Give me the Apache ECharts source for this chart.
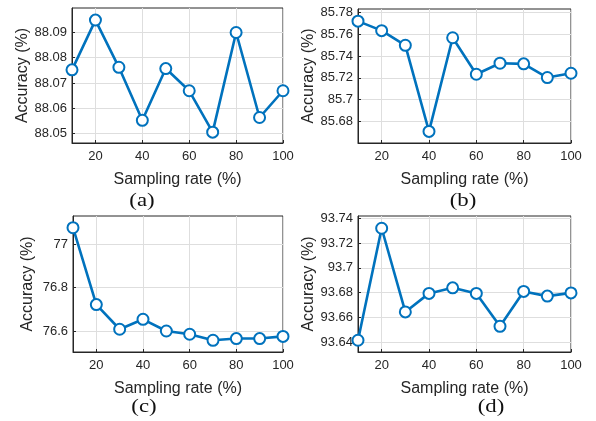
<!DOCTYPE html>
<html>
<head>
<meta charset="utf-8">
<script src="https://cdn.jsdelivr.net/npm/echarts@6/dist/echarts.min.js"></script>
<style>
html,body{margin:0;padding:0;background:#fff;}
#chart{width:596px;height:421px;}
</style>
</head>
<body>
<div id="chart"></div>
<script>
// ---- data ----
var samplingRates = [10, 20, 30, 40, 50, 60, 70, 80, 90, 100];
var accA = [88.0752, 88.0949, 88.0762, 88.0552, 88.0757, 88.0669, 88.0505, 88.0900, 88.0563, 88.0669];
var accB = [85.7719, 85.7632, 85.7498, 85.6710, 85.7567, 85.7233, 85.7334, 85.7328, 85.7203, 85.7242];
var accC = [77.077, 76.722, 76.608, 76.654, 76.600, 76.585, 76.557, 76.565, 76.565, 76.575];
var accD = [93.6414, 93.7320, 93.6643, 93.6793, 93.6838, 93.6793, 93.6527, 93.6809, 93.6771, 93.6797];

var xTicks = [20, 40, 60, 80, 100];
var yTicksA = [88.05, 88.06, 88.07, 88.08, 88.09];
var yTicksB = [85.68, 85.70, 85.72, 85.74, 85.76, 85.78];
var yTicksC = [76.6, 76.8, 77.0];
var yTicksD = [93.64, 93.66, 93.68, 93.70, 93.72, 93.74];

var panelLabels = ['(a)', '(b)', '(c)', '(d)'];
var xName = 'Sampling rate (%)';
var yName = 'Accuracy (%)';

// ---- layout / style ----
var panels = [
  {data: accA, ticks: yTicksA, dec: 2, min: 88.0462, max: 88.0997, grid: {left: 72, top: 8, width: 211, height: 135}, nameGap: 41, label: {x: 142, y: 201}},
  {data: accB, ticks: yTicksB, dec: 2, min: 85.6604, max: 85.7830, grid: {left: 358, top: 9, width: 213, height: 134}, nameGap: 41, label: {x: 463, y: 201}},
  {data: accC, ticks: yTicksC, dec: 1, min: 76.503, max: 77.131, grid: {left: 73, top: 216, width: 210, height: 136}, nameGap: 37, label: {x: 144, y: 407}},
  {data: accD, ticks: yTicksD, dec: 2, min: 93.6319, max: 93.7419, grid: {left: 358, top: 216, width: 213, height: 136}, nameGap: 41, label: {x: 491, y: 407}}
];

var BLUE = '#0072BD';
var AXIS = '#262626';
var GRIDC = '#dedede';
var FONT = '"Liberation Sans", Arial, sans-serif';

function fmt(v, dec) {
  return String(parseFloat(v.toFixed(dec)));
}

var option = {
  animation: false,
  backgroundColor: '#fff',
  grid: [], xAxis: [], yAxis: [], series: [], graphic: []
};

panels.forEach(function (p, i) {
  option.grid.push(Object.assign({show: true, borderColor: AXIS, borderWidth: 1, backgroundColor: 'transparent'}, p.grid));
  option.xAxis.push({
    type: 'value', gridIndex: i, min: 10, max: 100,
    name: xName, nameLocation: 'middle', nameGap: 29,
    nameTextStyle: {fontFamily: FONT, fontSize: 16, color: AXIS},
    axisLine: {show: true, lineStyle: {color: AXIS, width: 1}},
    axisTick: {show: true, inside: true, length: 3, lineStyle: {color: AXIS}, customValues: xTicks},
    axisLabel: {fontFamily: FONT, fontSize: 13, color: AXIS, margin: 7, customValues: xTicks,
      formatter: function (v) { return String(v); }},
    splitLine: {show: true, lineStyle: {color: GRIDC, width: 1}}
  });
  option.yAxis.push({
    type: 'value', gridIndex: i, min: p.min, max: p.max,
    name: yName, nameLocation: 'middle', nameGap: p.nameGap,
    nameTextStyle: {fontFamily: FONT, fontSize: 16, color: AXIS},
    axisLine: {show: true, lineStyle: {color: AXIS, width: 1}},
    axisTick: {show: true, inside: true, length: 3, lineStyle: {color: AXIS}, customValues: p.ticks},
    axisLabel: {fontFamily: FONT, fontSize: 13, color: AXIS, margin: 5, customValues: p.ticks,
      formatter: (function (dec) { return function (v) { return fmt(v, dec); }; })(p.dec)},
    splitLine: {show: true, lineStyle: {color: GRIDC, width: 1}}
  });
  option.series.push({
    type: 'line', xAxisIndex: i, yAxisIndex: i,
    data: samplingRates.map(function (x, k) { return [x, p.data[k]]; }),
    symbol: 'emptyCircle', symbolSize: 11, showSymbol: true,
    lineStyle: {color: BLUE, width: 2.6},
    itemStyle: {color: BLUE, borderColor: BLUE, borderWidth: 2.6},
    clip: false
  });
  option.graphic.push({
    type: 'text', x: p.label.x, y: p.label.y, scaleX: 1.2,
    style: {text: panelLabels[i], fontFamily: '"Liberation Serif", "Times New Roman", serif', fontSize: 19,
      fill: '#111', textAlign: 'center', textVerticalAlign: 'middle'}
  });
});

var chart = echarts.init(document.getElementById('chart'), null, {renderer: 'canvas'});
chart.setOption(option);
</script>
</body>
</html>
